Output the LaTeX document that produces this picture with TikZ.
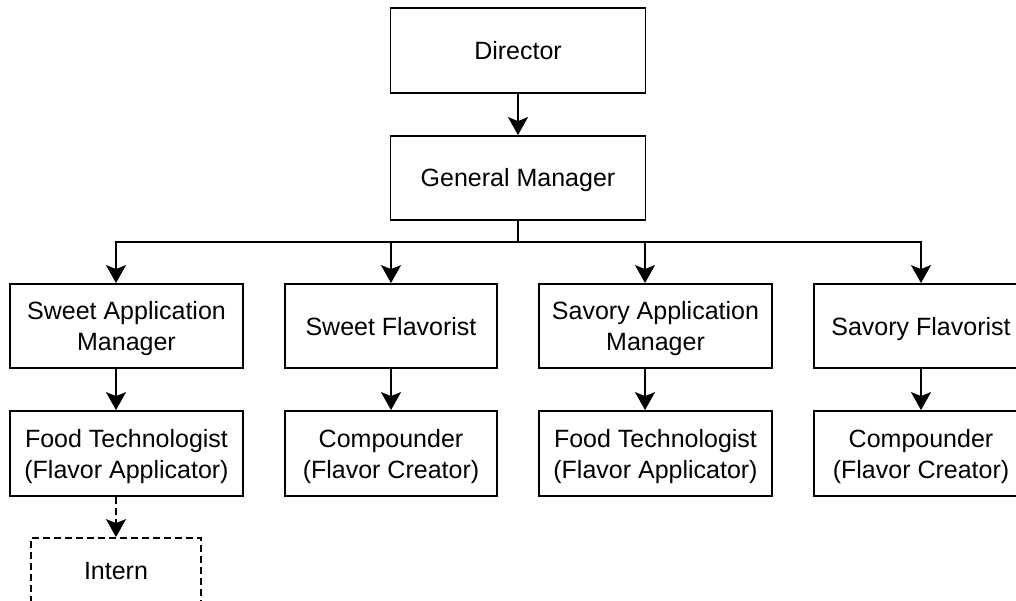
\documentclass[tikz,border=0pt]{standalone}
\usepackage{fontspec}
\setmainfont{Liberation Sans}
\usetikzlibrary{arrows.meta}

\tikzset{
	box/.style={draw, line width=1.8pt, align=center, inner sep=0pt, font=\fontsize{25}{31}\selectfont,
		text height=18pt, text depth=0pt},
	two/.style={text height=49pt},
	arr/.style={line width=1.8pt, -{Stealth[length=18pt,width=20pt,inset=4pt]}},
	dash7/.style={dash pattern=on 7pt off 4pt},
}

\begin{document}
\begin{tikzpicture}[x=1pt,y=-1pt]
	\useasboundingbox (0,0) rectangle (1016,601);
	\clip (0,0) rectangle (1016,601);
	% top
	\node[box, minimum width=255pt, minimum height=85pt] (dir) at (518,50.5) {Director};
	\node[box, minimum width=255pt, minimum height=84pt] (gm) at (518,178) {General Manager};
	% first row
	\node[box, two, minimum width=233pt, minimum height=84pt] (sam) at (126.5,326) {Sweet Application\\Manager};
	\node[box, minimum width=212pt, minimum height=84pt] (sf) at (391,326) {Sweet Flavorist};
	\node[box, two, minimum width=233pt, minimum height=84pt] (vam) at (655.5,326) {Savory Application\\Manager};
	\node[box, minimum width=214pt, minimum height=84pt] (vf) at (921,326) {Savory Flavorist};
	% second row
	\node[box, two, minimum width=233pt, minimum height=85pt] (ft1) at (126.5,453.5) {Food Technologist\\(Flavor Applicator)};
	\node[box, two, minimum width=212pt, minimum height=85pt] (cp1) at (391,453.5) {Compounder\\(Flavor Creator)};
	\node[box, two, minimum width=233pt, minimum height=85pt] (ft2) at (655.5,453.5) {Food Technologist\\(Flavor Applicator)};
	\node[box, two, minimum width=214pt, minimum height=85pt] (cp2) at (921,453.5) {Compounder\\(Flavor Creator)};
	\node[box, dash7, minimum width=170pt, minimum height=64pt] (int) at (116,570) {Intern};
	% connectors
	\coordinate (bus) at (518,242);
	\coordinate (sx) at (116,0);
	\coordinate (vx) at (645,0);
	\draw[arr] (dir) -- (gm);
	\draw[arr] (gm.south) -- (bus) -| (sam.north -| sx);
	\draw[arr] (gm.south) -- (bus) -| (sf.north);
	\draw[arr] (gm.south) -- (bus) -| (vam.north -| vx);
	\draw[arr] (gm.south) -- (bus) -| (vf.north);
	\draw[arr] (sam.south -| sx) -- (ft1.north -| sx);
	\draw[arr] (sf) -- (cp1);
	\draw[arr] (vam.south -| vx) -- (ft2.north -| vx);
	\draw[arr] (vf) -- (cp2);
	\draw[arr, dash7] (ft1.south -| sx) -- (int.north);
\end{tikzpicture}
\end{document}
